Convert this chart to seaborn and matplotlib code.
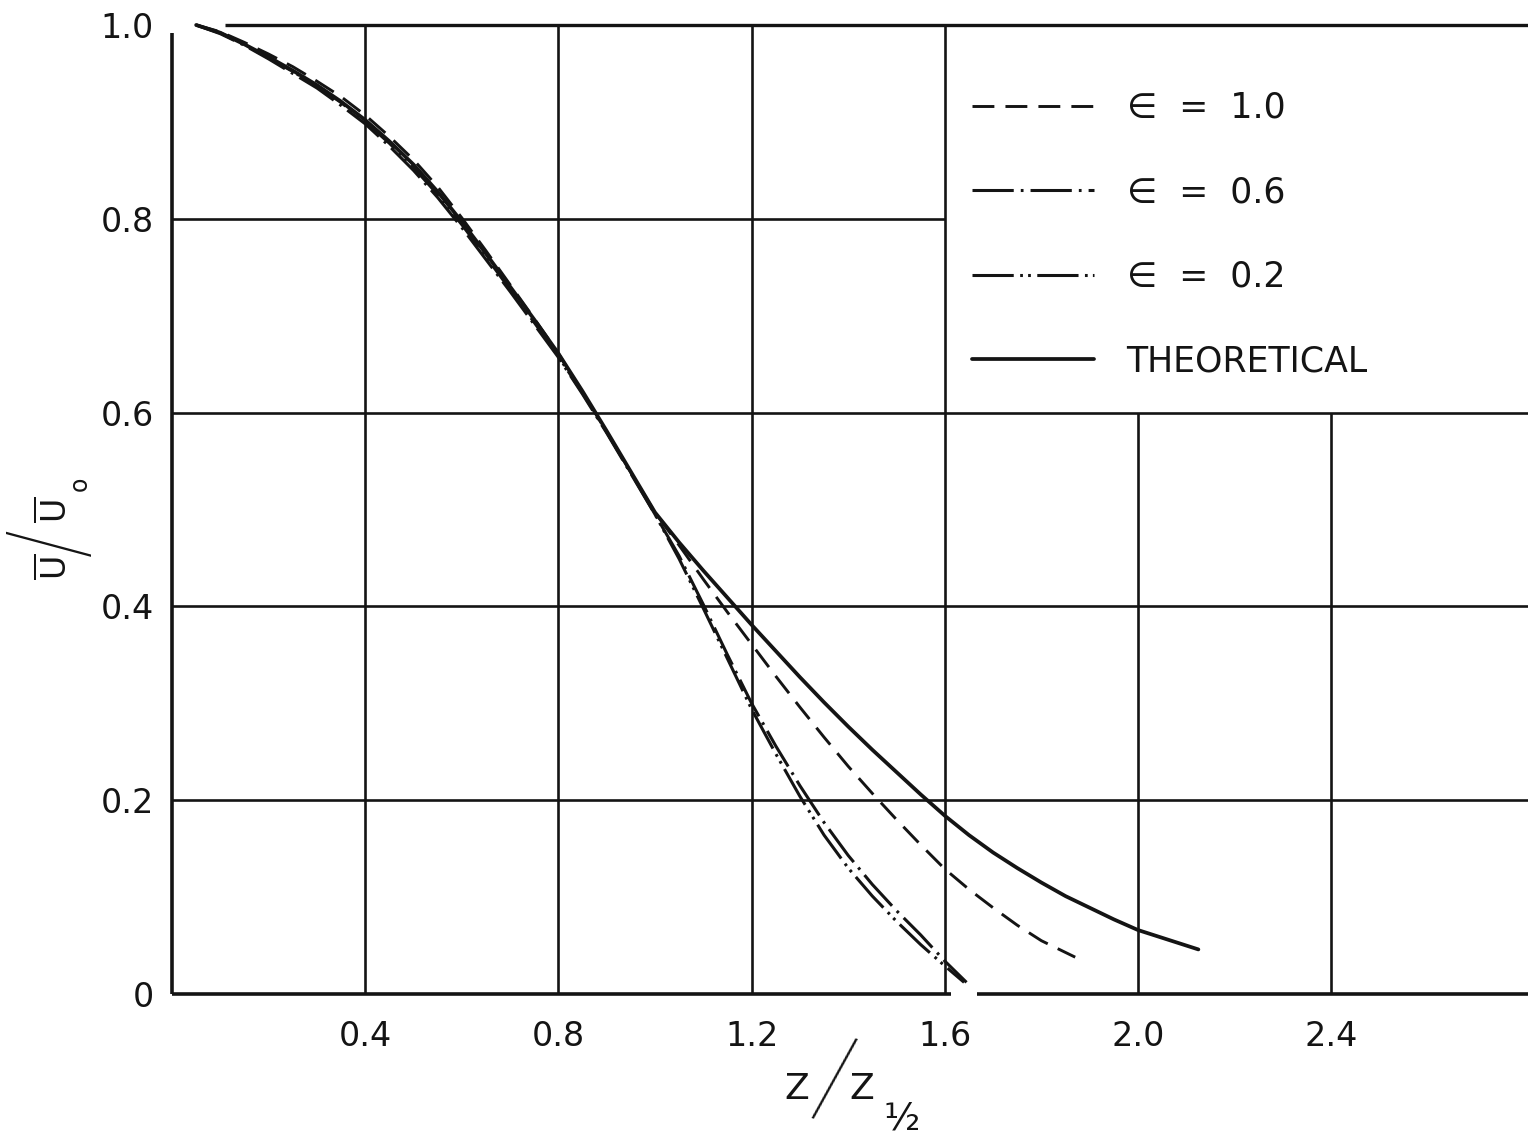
import matplotlib
matplotlib.use("Agg")
import matplotlib.pyplot as plt
from matplotlib import font_manager as fm
import seaborn as sns
import pandas as pd

# ---------------- data ----------------
x_ticks = [0.4, 0.8, 1.2, 1.6, 2.0, 2.4]
x_tick_labels = ["0.4", "0.8", "1.2", "1.6", "2.0", "2.4"]
y_ticks = [0.0, 0.2, 0.4, 0.6, 0.8, 1.0]
y_tick_labels = ["0", "0.2", "0.4", "0.6", "0.8", "1.0"]

series_labels = ["\u2208  =  1.0", "\u2208  =  0.6", "\u2208  =  0.2", "THEORETICAL"]

eps10_x = [0.05, 0.10, 0.15, 0.20, 0.25, 0.30, 0.35, 0.40, 0.45, 0.50, 0.55, 0.60, 0.65, 0.70,
           0.75, 0.80, 0.85, 0.90, 0.95, 1.00, 1.05, 1.10, 1.15, 1.20, 1.25, 1.30, 1.35, 1.40,
           1.45, 1.50, 1.55, 1.60, 1.65, 1.70, 1.75, 1.80, 1.87]
eps10_y = [1.000, 0.993, 0.982, 0.970, 0.957, 0.942, 0.926, 0.907, 0.885, 0.861, 0.833, 0.801,
           0.767, 0.732, 0.697, 0.661, 0.621, 0.580, 0.538, 0.497, 0.463, 0.428, 0.394, 0.361,
           0.328, 0.296, 0.265, 0.235, 0.207, 0.180, 0.154, 0.129, 0.108, 0.089, 0.071, 0.055,
           0.038]

eps06_x = [0.05, 0.10, 0.15, 0.20, 0.25, 0.30, 0.35, 0.40, 0.45, 0.50, 0.55, 0.60, 0.65, 0.70,
           0.75, 0.80, 0.85, 0.90, 0.95, 1.00, 1.05, 1.10, 1.15, 1.20, 1.25, 1.30, 1.35, 1.40,
           1.45, 1.50, 1.55, 1.60, 1.645]
eps06_y = [1.000, 0.991, 0.979, 0.965, 0.950, 0.935, 0.917, 0.898, 0.875, 0.850, 0.822, 0.791,
           0.758, 0.725, 0.691, 0.657, 0.619, 0.579, 0.537, 0.495, 0.452, 0.402, 0.350, 0.300,
           0.256, 0.215, 0.177, 0.143, 0.113, 0.086, 0.061, 0.034, 0.012]

eps02_x = [0.05, 0.10, 0.15, 0.20, 0.25, 0.30, 0.35, 0.40, 0.45, 0.50, 0.55, 0.60, 0.65, 0.70,
           0.75, 0.80, 0.85, 0.90, 0.95, 1.00, 1.05, 1.10, 1.15, 1.20, 1.25, 1.30, 1.35, 1.40,
           1.45, 1.50, 1.55, 1.60, 1.64]
eps02_y = [1.000, 0.992, 0.980, 0.966, 0.952, 0.937, 0.920, 0.900, 0.878, 0.853, 0.825, 0.794,
           0.761, 0.727, 0.693, 0.658, 0.620, 0.580, 0.538, 0.495, 0.449, 0.398, 0.346, 0.294,
           0.248, 0.204, 0.164, 0.130, 0.101, 0.075, 0.051, 0.029, 0.012]

theo_x = [0.05, 0.10, 0.15, 0.20, 0.25, 0.30, 0.35, 0.40, 0.45, 0.50, 0.55, 0.60, 0.65, 0.70,
          0.75, 0.80, 0.85, 0.90, 0.95, 1.00, 1.05, 1.10, 1.15, 1.20, 1.25, 1.30, 1.35, 1.40,
          1.45, 1.50, 1.55, 1.60, 1.65, 1.70, 1.75, 1.80, 1.85, 1.90, 1.95, 2.00, 2.05, 2.10,
          2.125]
theo_y = [1.000, 0.992, 0.980, 0.967, 0.953, 0.938, 0.921, 0.902, 0.880, 0.856, 0.828, 0.797,
          0.764, 0.730, 0.696, 0.661, 0.622, 0.581, 0.539, 0.497, 0.466, 0.437, 0.409, 0.381,
          0.354, 0.327, 0.301, 0.276, 0.252, 0.229, 0.206, 0.184, 0.164, 0.146, 0.130, 0.115,
          0.101, 0.089, 0.077, 0.066, 0.058, 0.050, 0.046]

# ---------------- figure ----------------
sns.set_theme(style="white")
plt.rcParams["font.family"] = ["DejaVu Sans"]
plt.rcParams["mathtext.fontset"] = "dejavusans"

# a light-weight face for the long hand-drawn slashes of the axis titles
slash_font = None
best = 999
for f in fm.fontManager.ttflist:
    if f.name in ("Roboto", "Lato", "Open Sans", "DejaVu Sans", "Inter", "Noto Sans") \
            and f.style == "normal" and isinstance(f.weight, int) and f.weight < best \
            and f.stretch in ("normal", 500):
        best = f.weight
        slash_font = f.fname
slash_fp = fm.FontProperties(fname=slash_font) if slash_font else fm.FontProperties(family="DejaVu Sans")

W, H = 1528, 1141
fig = plt.figure(figsize=(W / 100, H / 100), dpi=100)
fig.patch.set_facecolor("white")

def fx(px):
    return px / W

def fy(py):
    return 1 - py / H

ax_left, ax_right, ax_top, ax_bottom = 172, 1528, 25, 994
ax = fig.add_axes([fx(ax_left), fy(ax_bottom), (ax_right - ax_left) / W, (ax_bottom - ax_top) / H])
XMAX = (ax_right - ax_left) / 483.0
ax.set_xlim(0, XMAX)
ax.set_ylim(0, 1.0)
ax.set_facecolor("white")
for s in ax.spines.values():
    s.set_visible(False)

ink = "#141414"
glw = 1.9
# grid (blank in the legend region, x > 1.6 and y > 0.6)
for xv in x_ticks:
    top = 1.0 if xv <= 1.6 else 0.6
    ax.vlines(xv, 0, top, color=ink, lw=glw, zorder=1, clip_on=False)
for yv in y_ticks[1:-1]:
    right = XMAX if yv <= 0.6 else 1.6
    ax.hlines(yv, 0, right, color=ink, lw=glw, zorder=1, clip_on=False)
ax.hlines(1.0, 0.11, XMAX, color=ink, lw=2.4, zorder=1, clip_on=False)
# axes lines
ax.vlines(0, 0, 0.992, color=ink, lw=2.6, zorder=1, clip_on=False)
ax.hlines(0, 0, 1.613, color=ink, lw=2.6, zorder=1, clip_on=False)
ax.hlines(0, 1.667, XMAX, color=ink, lw=2.6, zorder=1, clip_on=False)

series = [
    (eps10_x, eps10_y, series_labels[0], 2.1, (7.5, 3.8)),
    (eps06_x, eps06_y, series_labels[1], 2.2, (13.5, 2.3, 0.9, 2.3)),
    (eps02_x, eps02_y, series_labels[2], 2.2, (13.5, 2.1, 0.9, 1.7, 0.9, 2.1)),
    (theo_x, theo_y, series_labels[3], 2.7, None),
]
handles = []
for xs, ys, lab, lw, dash in series:
    df = pd.DataFrame({"x": xs, "y": ys})
    n_before = len(ax.lines)
    sns.lineplot(data=df, x="x", y="y", color=ink, lw=lw, estimator=None, sort=False,
                 legend=False, ax=ax, zorder=3)
    ln = ax.lines[n_before]
    ln.set_solid_capstyle("round")
    ln.set_clip_on(False)
    if dash is not None:
        ln.set_dashes(dash)
    handles.append(ln)

ax.set_xlabel("")
ax.set_ylabel("")
ax.set_xticks(x_ticks)
ax.set_xticklabels(x_tick_labels)
ax.set_yticks(y_ticks)
ax.set_yticklabels(y_tick_labels)
ax.tick_params(axis="both", length=0, labelsize=24, colors=ink)
ax.tick_params(axis="x", pad=19)
ax.tick_params(axis="y", pad=13)

leg = ax.legend(handles, series_labels, loc="upper left",
                bbox_to_anchor=(fx(972), fy(91)), bbox_transform=fig.transFigure,
                frameon=False, fontsize=25, handlelength=3.5, handletextpad=0.95,
                labelspacing=1.45, borderpad=0, borderaxespad=0)
for t in leg.get_texts():
    t.set_color(ink)

# x-axis label  Z / Z_{1/2}
fig.text(fx(797), fy(1089), "Z", fontsize=26, ha="center", va="center", color=ink)
sx = fig.text(fx(832), fy(1086), "/", ha="center", va="center", color=ink,
              rotation=-14, rotation_mode="anchor")
sx.set_fontproperties(slash_fp)
sx.set_fontsize(72)
fig.text(fx(862), fy(1089), "Z", fontsize=26, ha="center", va="center", color=ink)
fig.text(fx(902), fy(1120), "\u00bd", fontsize=27, ha="center", va="center", color=ink)

# y-axis label  U/U_o (overbars), rotated
fig.text(fx(55), fy(567), r"$\overline{\mathrm{U}}$", fontsize=24, rotation=90,
         ha="center", va="center", color=ink)
sy = fig.text(fx(52), fy(540), "/", rotation=90, ha="center", va="center", color=ink)
sy.set_fontproperties(slash_fp)
sy.set_fontsize(70)
fig.text(fx(55), fy(510), r"$\overline{\mathrm{U}}$", fontsize=24, rotation=90,
         ha="center", va="center", color=ink)
fig.text(fx(80), fy(484), "o", fontsize=17, rotation=90, ha="center", va="center", color=ink)

fig.savefig("out.png", dpi=100, facecolor="white")
